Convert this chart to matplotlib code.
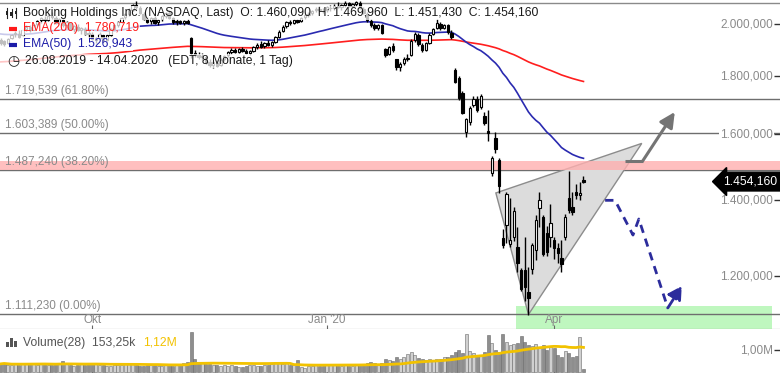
import numpy as np
import pandas as pd
import matplotlib
matplotlib.use('Agg')
import matplotlib.pyplot as plt
import matplotlib.transforms as mtransforms
from matplotlib.ticker import NullLocator
from matplotlib.patches import Polygon, Rectangle

plt.rcParams['font.family'] = ['Liberation Sans', 'DejaVu Sans']

# ---- Daten: Booking Holdings, 26.08.2019 - 14.04.2020 (Tageskerzen) ----
dates = pd.bdate_range('2019-08-26', '2020-04-14', freq='C',
                       holidays=['2019-09-02', '2019-11-28', '2019-12-25', '2020-01-01',
                                 '2020-01-20', '2020-02-17', '2020-04-10'])

ohlc = [
    # Aug
    (1935, 1945, 1918, 1925), (1932, 1938, 1915, 1920), (1925, 1945, 1922, 1940),
    (1945, 1962, 1940, 1958), (1960, 1972, 1950, 1966),
    # Sep
    (1962, 1975, 1945, 1950), (1955, 1982, 1952, 1978), (1980, 1995, 1972, 1990),
    (1988, 1996, 1970, 1975), (1978, 2000, 1975, 1996), (2000, 2018, 1992, 2012),
    (2015, 2030, 2005, 2024), (2022, 2035, 2010, 2016), (2018, 2040, 2012, 2035),
    (2035, 2048, 2020, 2028), (2025, 2032, 2000, 2005), (2008, 2025, 2002, 2020),
    (2018, 2022, 1990, 1995), (1998, 2012, 1985, 2008), (2005, 2010, 1975, 1980),
    (1982, 1998, 1970, 1992), (1990, 2002, 1972, 1975), (1978, 1990, 1962, 1985),
    (1982, 1988, 1958, 1962), (1965, 1975, 1945, 1960),
    # Okt
    (1962, 1970, 1935, 1940), (1938, 1950, 1925, 1945), (1945, 1968, 1940, 1962),
    (1958, 1962, 1930, 1935), (1938, 1960, 1932, 1955), (1958, 1985, 1952, 1980),
    (1982, 2000, 1975, 1995), (1998, 2012, 1990, 2008), (2010, 2030, 2005, 2025),
    (2028, 2045, 2020, 2040), (2042, 2065, 2035, 2060), (2060, 2085, 2052, 2078),
    (2080, 2095, 2062, 2070), (2068, 2075, 2040, 2045), (2042, 2050, 2015, 2020),
    (2022, 2030, 2005, 2010), (2012, 2028, 2000, 2024), (2025, 2032, 2002, 2006),
    (2008, 2022, 1998, 2018), (2020, 2038, 2012, 2034), (2035, 2050, 2025, 2045),
    (2045, 2052, 2020, 2025), (2024, 2030, 2002, 2008),
    # Nov
    (2008, 2020, 1998, 2012), (2012, 2018, 2000, 2004), (2005, 2016, 1998, 2014),
    (2014, 2022, 2002, 2006), (1945, 1950, 1868, 1886), (1888, 1898, 1872, 1880),
    (1878, 1890, 1862, 1870), (1870, 1885, 1858, 1875), (1872, 1876, 1845, 1850),
    (1852, 1862, 1835, 1842), (1840, 1858, 1830, 1852), (1850, 1860, 1832, 1838),
    (1840, 1866, 1836, 1860), (1862, 1880, 1855, 1876), (1878, 1895, 1870, 1890),
    (1892, 1905, 1884, 1898), (1898, 1904, 1885, 1892), (1892, 1906, 1886, 1900),
    (1900, 1910, 1890, 1895), (1895, 1902, 1882, 1888),
    # Dez
    (1886, 1898, 1878, 1893), (1894, 1912, 1890, 1908), (1908, 1925, 1902, 1918),
    (1920, 1932, 1905, 1910), (1912, 1928, 1906, 1924), (1924, 1935, 1912, 1916),
    (1918, 1932, 1910, 1928), (1928, 1952, 1925, 1948), (1950, 1975, 1945, 1970),
    (1972, 1995, 1968, 1990), (1992, 2012, 1985, 2008), (2008, 2018, 1998, 2004),
    (2006, 2020, 2000, 2015), (2015, 2022, 2004, 2010), (2012, 2030, 2008, 2026),
    (2028, 2040, 2020, 2036), (2036, 2048, 2028, 2042), (2044, 2060, 2038, 2055),
    (2056, 2070, 2048, 2062), (2062, 2075, 2052, 2058), (2055, 2068, 2045, 2054),
    # Jan
    (2058, 2075, 2050, 2072), (2065, 2078, 2052, 2068), (2066, 2082, 2058, 2076),
    (2076, 2090, 2066, 2070), (2072, 2085, 2060, 2080), (2080, 2095, 2072, 2088),
    (2086, 2092, 2070, 2074), (2074, 2086, 2064, 2082), (2082, 2096, 2075, 2090),
    (2088, 2094, 2062, 2066), (2064, 2070, 2040, 2045), (2042, 2048, 2010, 2015),
    (2012, 2020, 1988, 1995), (1996, 2005, 1978, 1984), (1985, 2002, 1976, 1998),
    (1996, 2000, 1960, 1965), (1900, 1905, 1872, 1880), (1882, 1915, 1878, 1910),
    (1912, 1925, 1890, 1896), (1862, 1865, 1822, 1832), (1835, 1852, 1818, 1845),
    # Feb
    (1848, 1870, 1840, 1862), (1865, 1882, 1855, 1868), (1880, 1940, 1875, 1932),
    (1935, 1968, 1930, 1960), (1958, 1965, 1915, 1922), (1918, 1925, 1890, 1898),
    (1898, 1930, 1894, 1925), (1926, 1965, 1920, 1958), (1960, 1985, 1955, 1980),
    (1985, 2020, 1980, 2005), (2000, 2008, 1978, 1985), (1986, 2000, 1982, 1995),
    (1995, 2002, 1962, 1968), (1965, 1978, 1940, 1948), (1822, 1830, 1775, 1780),
    (1795, 1800, 1715, 1722), (1738, 1745, 1668, 1672), (1608, 1655, 1590, 1650),
    (1640, 1695, 1632, 1688),
    # Mar
    (1698, 1728, 1690, 1720), (1720, 1730, 1675, 1680), (1690, 1735, 1685, 1728),
    (1662, 1675, 1630, 1638), (1612, 1680, 1580, 1605), (1480, 1530, 1470, 1525),
    (1588, 1608, 1540, 1552), (1518, 1525, 1420, 1440), (1298, 1320, 1270, 1280),
    (1331, 1425, 1284, 1418), (1282, 1408, 1275, 1292), (1300, 1380, 1290, 1370),
    (1273, 1326, 1210, 1232), (1216, 1222, 1165, 1170), (1215, 1300, 1142, 1175),
    (1162, 1223, 1111, 1150), (1218, 1285, 1205, 1278), (1265, 1360, 1240, 1345),
    (1378, 1425, 1326, 1400), (1354, 1360, 1250, 1255), (1310, 1330, 1250, 1260),
    (1300, 1390, 1275, 1338),
    # Apr
    (1292, 1300, 1242, 1272), (1270, 1284, 1232, 1258), (1246, 1292, 1210, 1230),
    (1300, 1362, 1292, 1354), (1408, 1487, 1364, 1374), (1382, 1424, 1360, 1368),
    (1425, 1446, 1405, 1416), (1414, 1452, 1400, 1422), (1460.09, 1469.96, 1451.43, 1454.16),
]
opens = np.array([r[0] for r in ohlc], dtype=float)
highs = np.array([r[1] for r in ohlc], dtype=float)
lows = np.array([r[2] for r in ohlc], dtype=float)
closes = np.array([r[3] for r in ohlc], dtype=float)

# Volumen in Tsd. Stueck
volume = np.array([
    380, 420, 350, 330, 360,
    340, 400, 380, 410, 360, 350, 390, 420, 330, 310, 370, 440, 520, 360, 340, 300, 350, 380, 330, 420,
    390, 360, 340, 310, 280, 300, 320, 350, 330, 360, 380, 410, 340, 300, 290, 330, 310, 350, 300, 280,
    320, 340, 300,
    360, 310, 420, 480, 1790, 620, 480, 420, 380, 360, 330, 310, 300, 340, 280, 320, 290, 260, 230, 300,
    310, 330, 300, 280, 340, 320, 360, 450, 400, 380, 420, 350, 330, 550, 250, 200, 280, 300, 320, 290, 280,
    340, 360, 330, 310, 300, 320, 280, 300, 310, 330, 380, 420, 460, 420, 390, 430, 620, 560, 500, 680, 620,
    700, 820, 900, 760, 650, 620, 560, 600, 540, 580, 620, 680, 700, 760, 900, 1000, 850, 1700, 950,
    850, 800, 750, 900, 1650, 1300, 1000, 900, 1700, 1370, 1220, 1270, 1320, 1620, 1370, 1220, 1170,
    1270, 1070, 1220, 1020, 1120,
    1070, 800, 700, 950, 850, 700, 750, 1580, 153.25,
], dtype=float)

ema200_seed = 1852
ema50_seed = 1962

fib_levels = [1719.539, 1603.389, 1487.240, 1111.230]
fib_pcts = ['61.80%', '50.00%', '38.20%', '0.00%']
resist_zone = (1487.24, 1517)
target_zone = (1079, 1130)
target_zone_x = (140.6, 210.3)

price_ticks = [2000, 1800, 1600, 1400, 1200]
month_ticks = [('2019-10', 'Okt'), ('2020-01', "Jan '20"), ('2020-04', 'Apr')]

# Zeichnungen (Index, Kurs)
wedge = [(135.1, 1421), (174.9, 1571), (144.0, 1111.23)]
up_arrow = [(170.3, 1517), (175.2, 1517), (183.9, 1674)]
down_path = [(164.9, 1400), (167.6, 1400), (172.5, 1305), (174.1, 1348), (182.0, 1126), (185.8, 1177)]


def de(v, nd=3):
    s = f'{v:,.{nd}f}'
    return s.replace(',', 'X').replace('.', ',').replace('X', '.')


def ema(vals, span, seed):
    a = 2 / (span + 1)
    e = seed
    out = []
    for v in vals:
        e = a * v + (1 - a) * e
        out.append(e)
    return np.array(out)


ema200 = ema(closes, 200, ema200_seed)
ema50 = ema(closes, 50, ema50_seed)
vol_ma = pd.Series(volume).rolling(28, min_periods=1).mean()

x = np.arange(len(closes))
up = closes >= opens

W, H, TOP = 780, 373, 329
fig = plt.figure(figsize=(7.8, 3.73), dpi=100)
ax = fig.add_axes([0, (H - TOP) / H, 1, TOP / H])
axv = fig.add_axes([0, 0, 1, (H - TOP) / H], sharex=ax)


def fx(px):
    return px / W


def fy(py):
    return 1 - py / TOP


ax.set_yscale('log')
ax.set_ylim(1079, 2100)
ax.set_xlim(-0.14, 212.6)
ax.yaxis.set_minor_locator(NullLocator())
for a in (ax, axv):
    for s in a.spines.values():
        s.set_visible(False)
ax.spines['bottom'].set_visible(True)
ax.spines['bottom'].set_color('#666666')

# Zonen
ax.axhspan(*resist_zone, color='#ffb0b0', alpha=0.8, lw=0, zorder=2)
ax.fill_between(target_zone_x, target_zone[0], target_zone[1], color='#bff7bf', lw=0, zorder=1)

# Fibonacci-Linien
ytr = mtransforms.blended_transform_factory(ax.transAxes, ax.transData)
for lv, pc in zip(fib_levels, fib_pcts):
    ax.axhline(lv, color='#6e6e6e', lw=1, zorder=1.5)
    ax.text(fx(5), lv * 1.004, f'{de(lv)} ({pc})', transform=ytr,
            ha='left', va='bottom', fontsize=8.5, color='#8a8a8a', zorder=4)

ax.plot([0, 1], [fy(3)] * 2, transform=ax.transAxes, color='#8a8a8a', lw=1, zorder=1)

# Keil
ax.add_patch(Polygon(wedge, closed=True, fc='#dcdcdc', ec='#8c8c8c', lw=1, zorder=1.8))

# EMAs
ax.plot(x, ema200, color='#ff1e1e', lw=1.2, zorder=3)
ax.plot(x, ema50, color='#2a2ab0', lw=1.2, zorder=3)

# Kerzen
ax.vlines(x, lows, highs, color='black', lw=1, zorder=4)
ax.bar(x, np.abs(closes - opens), bottom=np.minimum(opens, closes), width=0.65,
       color=np.where(up, 'white', 'black'), edgecolor='black', lw=0.8, zorder=5)

# Pfeile
ax.plot([p[0] for p in up_arrow[:2]], [p[1] for p in up_arrow[:2]], color='#747474', lw=2.2, zorder=6,
        solid_capstyle='butt')
ax.annotate('', xy=up_arrow[2], xytext=up_arrow[1],
            arrowprops=dict(arrowstyle='-|>,head_length=0.9,head_width=0.45', color='#747474', lw=2.2,
                            shrinkA=0, shrinkB=0), zorder=6)
ax.plot([p[0] for p in down_path[:5]], [p[1] for p in down_path[:5]], color='#2c2c9c', lw=2,
        ls=(0, (3, 2.2)), zorder=6)
ax.annotate('', xy=down_path[5], xytext=down_path[4],
            arrowprops=dict(arrowstyle='-|>,head_length=0.8,head_width=0.45', color='#2c2c9c', lw=2,
                            ls='--', shrinkA=0, shrinkB=0), zorder=6)

# rechte Achse
ax.set_yticks(price_ticks)
ax.set_yticklabels([])
ax.yaxis.tick_right()
ax.tick_params(axis='y', which='both', direction='in', length=4, width=1, color='#333333', right=True)
for t in price_ticks:
    ax.text(fx(773), t, de(t), transform=ytr, ha='right', va='center', fontsize=8.5,
            color='#8a8a8a', zorder=7, bbox=dict(fc='white', ec='none', pad=1))

ax.text(fx(777), closes[-1], de(closes[-1]), transform=ytr, ha='right', va='center', fontsize=8.7,
        color='white', zorder=8, bbox=dict(boxstyle='larrow,pad=0.28', fc='black', ec='black'))

# x-Achse
tick_idx = [int(np.argmax(dates.strftime('%Y-%m') == m)) for m, _ in month_ticks]
ax.set_xticks(tick_idx)
ax.set_xticklabels([])
ax.tick_params(axis='x', direction='in', length=3, color='#666666')
for i, (_, lab) in zip(tick_idx, month_ticks):
    ax.text(i, fy(320), lab, transform=mtransforms.blended_transform_factory(ax.transData, ax.transAxes),
            ha='center', va='center', fontsize=8.5, color='#8a8a8a', zorder=7)

# Legende oben links
box = dict(fc='white', ec='none', alpha=0.75, pad=0.6)
ax.text(fx(23), fy(13), 'Booking Holdings Inc. (NASDAQ, Last)  O: 1.460,090  H: 1.469,960  L: 1.451,430  C: 1.454,160',
        transform=ax.transAxes, ha='left', va='center', fontsize=8.7, color='#1a1a1a', zorder=9, bbox=box)
ax.text(fx(23), fy(28.5), 'EMA(200)  1.780,719', transform=ax.transAxes, ha='left', va='center', fontsize=8.7,
        color='#ff1a1a', zorder=9, bbox=box)
ax.text(fx(23), fy(44), 'EMA(50)  1.526,943', transform=ax.transAxes, ha='left', va='center', fontsize=8.7,
        color='#1c1ca8', zorder=9, bbox=box)
ax.text(fx(25), fy(61), '26.08.2019 - 14.04.2020   (EDT, 8 Monate, 1 Tag)', transform=ax.transAxes, ha='left',
        va='center', fontsize=8.7, color='#1a1a1a', zorder=9, bbox=box)
ax.add_patch(Rectangle((fx(0), fy(69)), fx(24), 58 / TOP, transform=ax.transAxes, fc='white', ec='none',
                       alpha=0.75, zorder=8.5))
ax.plot([fx(9), fx(17)], [fy(29)] * 2, transform=ax.transAxes, color='#ff1a1a', lw=3, zorder=9.5,
        solid_capstyle='butt')
ax.plot([fx(9), fx(17)], [fy(45)] * 2, transform=ax.transAxes, color='#1c1ca8', lw=3, zorder=9.5,
        solid_capstyle='butt')
ax.text(fx(13), fy(61), '\u25F7', transform=ax.transAxes, ha='center', va='center', fontsize=10,
        family=['DejaVu Sans'], color='#1a1a1a', zorder=9.5)
for k, (a0, a1, b0, b1) in enumerate([(8, 18, 11, 15), (9, 17, 12, 16), (8, 18, 11, 14)]):
    cx = fx(7 + 4.5 * k)
    ax.plot([cx, cx], [fy(a1), fy(a0)], transform=ax.transAxes, color='#222222', lw=0.8, zorder=9.5)
    ax.add_patch(Rectangle((cx - fx(1.3), fy(b1)), fx(2.6), (b1 - b0) / TOP, transform=ax.transAxes,
                           fc='#222222', ec='none', zorder=9.6))

# Volumen
axv.set_ylim(-27, 1940)
axv.bar(x, volume, width=0.75, color=np.where(up, '#d0d0d0', '#8e8e8e'), edgecolor='#6a6a6a', lw=0.4, zorder=2)
axv.plot(x, vol_ma, color='#f2c200', lw=2, zorder=3)
axv.set_yticks([1000])
axv.set_yticklabels([])
axv.yaxis.tick_right()
axv.tick_params(axis='y', direction='in', length=4, width=1, color='#333333')
axv.tick_params(axis='x', direction='in', length=4, color='#666666', labelbottom=False)
vtr = mtransforms.blended_transform_factory(axv.transAxes, axv.transData)
axv.text(fx(773), 1000, '1,00M', transform=vtr, ha='right', va='center', fontsize=8.5, color='#8a8a8a',
         zorder=7, bbox=dict(fc='white', ec='none', pad=1))
vy = (H - 342.7) / (H - TOP)
axv.text(fx(23), vy, f'Volume(28)  {de(volume[-1], 2)}k', transform=axv.transAxes, ha='left', va='center',
         fontsize=8.7, color='#555555', zorder=7, bbox=dict(fc='white', ec='none', alpha=0.75, pad=0.6))
axv.text(fx(143), vy, de(vol_ma.iloc[-1] / 1000, 2) + 'M', transform=axv.transAxes, ha='left', va='center',
         fontsize=8.7, color='#f2c200', zorder=7)
# kleines Balken-Symbol
vpx = lambda py: (H - py) / (H - TOP)
for k, hgt in enumerate([5, 9, 6]):
    axv.add_patch(Rectangle((fx(6 + 4 * k), vpx(347)), fx(2.6), hgt / (H - TOP), transform=axv.transAxes,
                            fc='#555555', ec='none', zorder=7))

fig.savefig('out.png', dpi=100)
